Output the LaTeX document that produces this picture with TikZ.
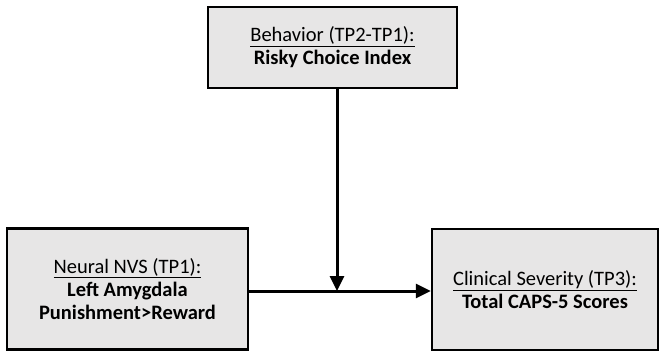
\documentclass[tikz,border=0pt]{standalone}
\usepackage{fontspec}
\setmainfont{Carlito}
\usetikzlibrary{arrows.meta}
\definecolor{boxfill}{HTML}{E7E6E6}
\begin{document}
\begin{tikzpicture}[x=1pt,y=-1pt,
  box/.style={draw=black,line width=2.4pt,fill=boxfill,inner sep=0pt,align=center,font=\fontsize{20.5}{23}\selectfont},
  conn/.style={line width=3pt,-{Triangle[length=15pt,width=14pt]}}]
\useasboundingbox (0,0) rectangle (665,353);
\node[box,minimum width=249pt,minimum height=81pt] (beh) at (332.5,47.5)
  {\underline{Behavior (TP2-TP1):}\\\textbf{Risky Choice Index}};
\node[box,minimum width=241pt,minimum height=121pt] (neu) at (127.5,289)
  {\underline{Neural NVS (TP1):}\\\textbf{Left Amygdala}\\\textbf{Punishment>Reward}};
\node[box,minimum width=226pt,minimum height=121pt] (cli) at (545,289.5)
  {\underline{Clinical Severity (TP3):}\\\textbf{Total CAPS-5 Scores}};
\coordinate (mid) at (337,291);
\draw[conn] (neu.east |- mid) -- (cli.west |- mid);
\draw[conn] (beh.south -| mid) -- (mid);
\end{tikzpicture}
\end{document}
